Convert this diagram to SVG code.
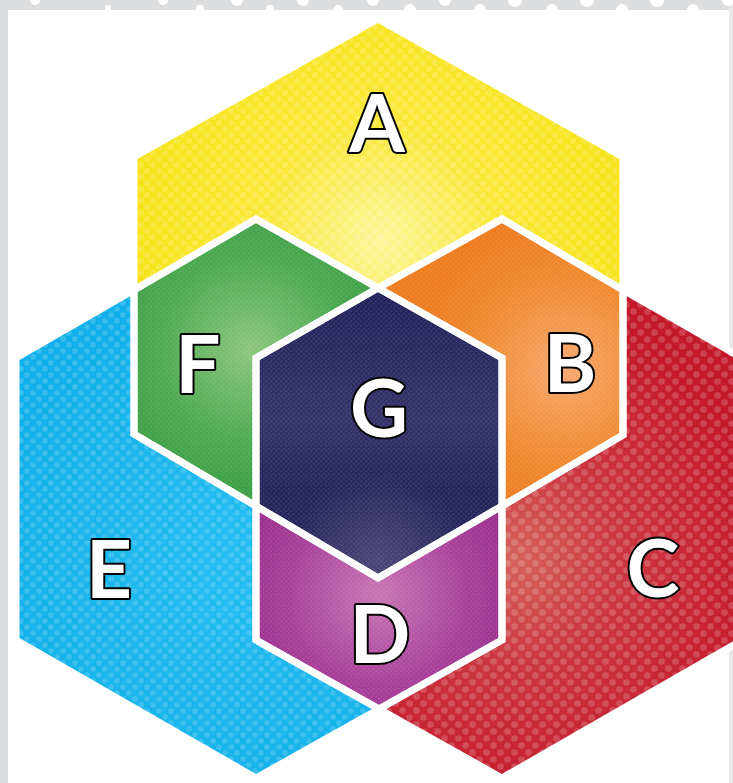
<svg xmlns="http://www.w3.org/2000/svg" xmlns:xlink="http://www.w3.org/1999/xlink" width="733" height="783" viewBox="0 0 733 783">
<style>
.lbl{font-family:Lato,"DejaVu Sans",sans-serif;font-weight:700;font-size:80px;fill:#fff;stroke:#000;stroke-width:4;paint-order:stroke;text-anchor:middle;stroke-linejoin:round}
.edge{fill:none;stroke:#fff;stroke-width:7;stroke-linejoin:miter}
</style>
<defs>
<pattern id="dBig" width="14" height="14" patternUnits="userSpaceOnUse"><circle cx="3.5" cy="3.5" r="3.3" fill="#fff" fill-opacity="0.18"/><circle cx="10.5" cy="10.5" r="3.3" fill="#fff" fill-opacity="0.18"/></pattern>
<pattern id="dMed" width="12" height="12" patternUnits="userSpaceOnUse"><circle cx="3" cy="3" r="2.8" fill="#fff" fill-opacity="0.16"/><circle cx="9" cy="9" r="2.8" fill="#fff" fill-opacity="0.16"/></pattern>
<pattern id="dFine" width="5" height="5" patternUnits="userSpaceOnUse"><circle cx="1.25" cy="1.25" r="1" fill="#fff" fill-opacity="0.1"/><circle cx="3.75" cy="3.75" r="1" fill="#fff" fill-opacity="0.1"/></pattern>
<radialGradient id="gA" gradientUnits="userSpaceOnUse" cx="380" cy="240" r="260"><stop offset="0" stop-color="#FDF59A"/><stop offset="0.45" stop-color="#F9E83A"/><stop offset="1" stop-color="#F7E31A"/></radialGradient>
<radialGradient id="gF" gradientUnits="userSpaceOnUse" cx="250" cy="350" r="150"><stop offset="0" stop-color="#8CC67E"/><stop offset="0.6" stop-color="#4EAA52"/><stop offset="1" stop-color="#3A9F44"/></radialGradient>
<radialGradient id="gB" gradientUnits="userSpaceOnUse" cx="565" cy="370" r="150"><stop offset="0" stop-color="#F6A870"/><stop offset="0.6" stop-color="#F08A30"/><stop offset="1" stop-color="#EE7C20"/></radialGradient>
<linearGradient id="gGl" gradientUnits="userSpaceOnUse" x1="0" y1="288" x2="0" y2="578"><stop offset="0" stop-color="#22215A"/><stop offset="0.45" stop-color="#35336A"/><stop offset="0.7" stop-color="#25245B"/><stop offset="1" stop-color="#2A285E"/></linearGradient>
<radialGradient id="gGr" gradientUnits="userSpaceOnUse" cx="378" cy="560" r="90"><stop offset="0" stop-color="#5A5482" stop-opacity="0.7"/><stop offset="1" stop-color="#5A5482" stop-opacity="0"/></radialGradient>
<radialGradient id="gD" gradientUnits="userSpaceOnUse" cx="378" cy="595" r="150"><stop offset="0" stop-color="#C877B4"/><stop offset="0.6" stop-color="#A8409A"/><stop offset="1" stop-color="#982D8A"/></radialGradient>
<radialGradient id="gC" gradientUnits="userSpaceOnUse" cx="515" cy="560" r="250"><stop offset="0" stop-color="#D4645A"/><stop offset="0.4" stop-color="#CC3842"/><stop offset="1" stop-color="#C4192B"/></radialGradient>
<radialGradient id="gE" gradientUnits="userSpaceOnUse" cx="240" cy="560" r="260"><stop offset="0" stop-color="#26BEF1"/><stop offset="1" stop-color="#12B0EA"/></radialGradient>
<polygon id="pA" points="378,19 623,157 623,290 502,219 378,288 256,219 134,290 134,157"/>
<polygon id="pF" points="256,219 378,288 256,358 256,506 134,434 134,290"/>
<polygon id="pB" points="502,219 623,290 623,435 502,506 502,358 378,288"/>
<polygon id="pG" points="378,288 502,358 502,506 378,578 256,506 256,358"/>
<polygon id="pD" points="256,506 378,578 502,506 502,640 379,709 256,640"/>
<polygon id="pE" points="16,358 134,290 134,434 256,506 256,640 379,709 256,778 16,640"/>
<polygon id="pC" points="623,290 742,358 742,640 502,778 379,709 502,640 502,506 623,435"/>
</defs>
<rect width="733" height="783" fill="#fff"/>
<g id="frame">
<rect x="0" y="0" width="733" height="10" fill="#DCDDDE"/>
<rect x="0" y="0" width="8" height="783" fill="#DCDDDE"/>
<rect x="729" y="0" width="4" height="783" fill="#E8E8E9"/>
<g fill="#fff">
<circle cx="35" cy="0" r="5"/><circle cx="108" cy="8" r="3"/><circle cx="163" cy="0" r="5"/><circle cx="200" cy="9" r="4"/><circle cx="237" cy="0" r="6"/><circle cx="270" cy="9" r="4"/><circle cx="303" cy="0" r="6"/><circle cx="338" cy="10" r="5"/><circle cx="373" cy="0" r="6"/><circle cx="410" cy="10" r="6"/><circle cx="445" cy="0" r="6"/><circle cx="480" cy="10" r="6"/><circle cx="515" cy="0" r="7"/><circle cx="552" cy="10" r="6"/><circle cx="587" cy="0" r="7"/><circle cx="622" cy="10" r="6"/><circle cx="657" cy="0" r="7"/><circle cx="693" cy="10" r="6"/><circle cx="728" cy="0" r="6"/>
</g>
</g>
<g id="nodeA"><use xlink:href="#pA" fill="url(#gA)"/><use xlink:href="#pA" fill="url(#dMed)"/></g>
<g id="nodeE"><use xlink:href="#pE" fill="url(#gE)"/><use xlink:href="#pE" fill="url(#dMed)"/></g>
<g id="nodeC"><use xlink:href="#pC" fill="url(#gC)"/><use xlink:href="#pC" fill="url(#dBig)"/></g>
<g id="nodeF"><use xlink:href="#pF" fill="url(#gF)"/><use xlink:href="#pF" fill="url(#dFine)"/></g>
<g id="nodeB"><use xlink:href="#pB" fill="url(#gB)"/><use xlink:href="#pB" fill="url(#dFine)"/></g>
<g id="nodeD"><use xlink:href="#pD" fill="url(#gD)"/><use xlink:href="#pD" fill="url(#dFine)"/></g>
<g id="nodeG"><use xlink:href="#pG" fill="url(#gGl)"/><use xlink:href="#pG" fill="url(#gGr)"/><use xlink:href="#pG" fill="url(#dFine)"/></g>
<g id="connectors">
<use xlink:href="#pA" class="edge"/><use xlink:href="#pE" class="edge"/><use xlink:href="#pC" class="edge"/><use xlink:href="#pF" class="edge"/><use xlink:href="#pB" class="edge"/><use xlink:href="#pD" class="edge"/><use xlink:href="#pG" class="edge"/>
</g>
<g id="labels">
<text class="lbl" x="377" y="152">A</text>
<text class="lbl" x="570" y="392">B</text>
<text class="lbl" x="653" y="597">C</text>
<text class="lbl" x="380" y="663">D</text>
<text class="lbl" x="109" y="598">E</text>
<text class="lbl" x="198" y="393">F</text>
<text class="lbl" x="379" y="437">G</text>
</g>
</svg>
